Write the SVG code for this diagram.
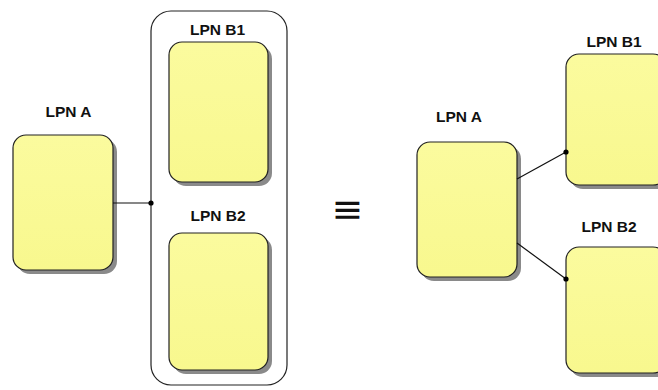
<svg xmlns="http://www.w3.org/2000/svg" width="658" height="390" viewBox="0 0 658 390">
  <defs>
    <linearGradient id="fillGrad" x1="0" y1="0" x2="0" y2="1">
      <stop offset="0" stop-color="#FBFB9E"/>
      <stop offset="1" stop-color="#F8F88E"/>
    </linearGradient>
  </defs>
  <style>
    .shadow { fill: #8a8a8a; }
    .box { fill: url(#fillGrad); stroke: #222; stroke-width: 1.2; }
    .label { font-family: "Liberation Sans", Arial, sans-serif; font-weight: bold; font-size: 15.5px; fill: #111; text-anchor: middle; }
    .wire { stroke: #111; stroke-width: 1.2; fill: none; }
    .dot { fill: #000; }
    .frame { fill: none; stroke: #222; stroke-width: 1.2; }
  </style>
  <rect width="658" height="390" fill="#fff"/>

  <!-- left: A attached to a grouped pair -->
  <rect id="group-b" class="frame" x="151" y="11" width="136" height="374" rx="20"/>

  <g id="left-a">
    <rect class="shadow" x="17" y="139" width="100" height="135" rx="13"/>
    <rect class="box" x="13" y="135" width="100" height="135" rx="13"/>
    <text class="label" x="68.5" y="117">LPN A</text>
  </g>
  <g id="left-b1">
    <rect class="shadow" x="173" y="46" width="99" height="140" rx="13"/>
    <rect class="box" x="169" y="42" width="99" height="140" rx="13"/>
    <text class="label" x="217.5" y="35">LPN B1</text>
  </g>
  <g id="left-b2">
    <rect class="shadow" x="173" y="237" width="99" height="137" rx="13"/>
    <rect class="box" x="169" y="233" width="99" height="137" rx="13"/>
    <text class="label" x="218" y="221">LPN B2</text>
  </g>

  <!-- equivalence -->
  <text id="equiv" x="347.5" y="221.5" font-family="DejaVu Sans, sans-serif" font-size="38" text-anchor="middle" fill="#111">≡</text>

  <!-- right: A attached to B1 and B2 separately -->
  <g id="right-a">
    <rect class="shadow" x="421" y="146" width="100" height="135" rx="13"/>
    <rect class="box" x="417" y="142" width="100" height="135" rx="13"/>
    <text class="label" x="459" y="122">LPN A</text>
  </g>
  <g id="right-b1">
    <rect class="shadow" x="570" y="58" width="100" height="131" rx="13"/>
    <rect class="box" x="566" y="54" width="100" height="131" rx="13"/>
    <text class="label" x="614" y="47">LPN B1</text>
  </g>
  <g id="right-b2">
    <rect class="shadow" x="570" y="251" width="100" height="126" rx="13"/>
    <rect class="box" x="566" y="247" width="100" height="126" rx="13"/>
    <text class="label" x="609" y="232">LPN B2</text>
  </g>

  <g id="connectors">
    <line class="wire" x1="113" y1="203" x2="151" y2="203"/>
    <circle class="dot" cx="151" cy="203" r="2.6"/>
    <line class="wire" x1="517" y1="179" x2="566" y2="152"/>
    <circle class="dot" cx="566" cy="152" r="2.6"/>
    <line class="wire" x1="517" y1="243" x2="566" y2="279"/>
    <circle class="dot" cx="566" cy="279" r="2.6"/>
  </g>
</svg>
